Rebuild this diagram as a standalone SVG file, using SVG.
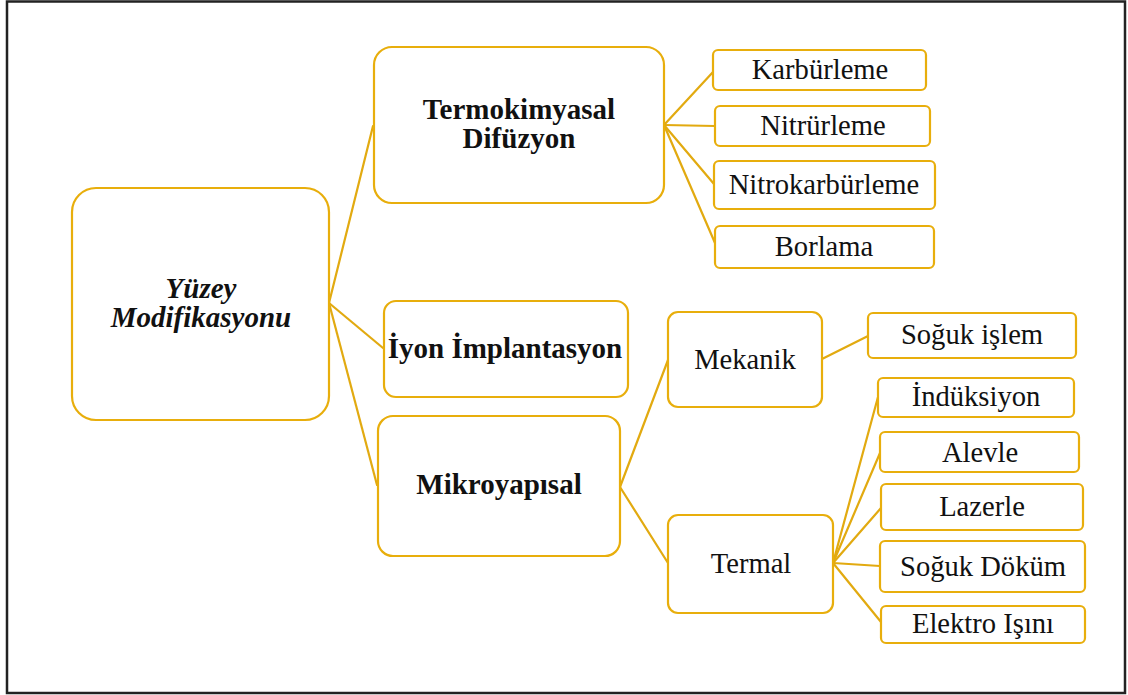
<svg xmlns="http://www.w3.org/2000/svg" width="1128" height="695" viewBox="0 0 1128 695">
  <style>
    .box { fill: #ffffff; stroke: #E8AE0C; stroke-width: 2.2; }
    .link { stroke: #E2AA10; stroke-width: 2.2; fill: none; stroke-linecap: round; }
    .t { font-family: "Liberation Serif", "Times New Roman", serif; font-size: 28.6px; fill: #111; text-anchor: middle; }
    .b { font-weight: bold; font-size: 29px; }
    .bi { font-weight: bold; font-style: italic; font-size: 29px; }
  </style>

  <!-- outer frame -->
  <rect x="7" y="1.5" width="1118" height="691.5" fill="#ffffff" stroke="#222222" stroke-width="2.5"/>

  <!-- connectors -->
  <g id="connectors">
    <line class="link" x1="329" y1="303" x2="373" y2="126"/>
    <line class="link" x1="329" y1="303" x2="383" y2="348"/>
    <line class="link" x1="329" y1="303" x2="377" y2="485"/>

    <line class="link" x1="664" y1="125" x2="713" y2="72"/>
    <line class="link" x1="664" y1="125" x2="715" y2="126"/>
    <line class="link" x1="664" y1="125" x2="714" y2="184"/>
    <line class="link" x1="664" y1="125" x2="715" y2="243"/>

    <line class="link" x1="620" y1="487" x2="668" y2="360"/>
    <line class="link" x1="620" y1="487" x2="668" y2="563"/>

    <line class="link" x1="822" y1="359" x2="868" y2="336"/>

    <line class="link" x1="833" y1="563" x2="878" y2="397"/>
    <line class="link" x1="833" y1="563" x2="880" y2="453"/>
    <line class="link" x1="833" y1="563" x2="881" y2="508"/>
    <line class="link" x1="833" y1="563" x2="880" y2="566"/>
    <line class="link" x1="833" y1="563" x2="881" y2="622"/>
  </g>

  <!-- root -->
  <g id="node-yuzey">
    <rect class="box" x="72" y="188" width="257" height="232" rx="24"/>
    <text class="t bi" x="201" y="298">Yüzey</text>
    <text class="t bi" x="201" y="327">Modifikasyonu</text>
  </g>

  <!-- level 1 -->
  <g id="node-termokimyasal">
    <rect class="box" x="374" y="47" width="290" height="156" rx="18"/>
    <text class="t b" x="519" y="119">Termokimyasal</text>
    <text class="t b" x="519" y="148">Difüzyon</text>
  </g>
  <g id="node-iyon">
    <rect class="box" x="384" y="301" width="244" height="96" rx="12"/>
    <text class="t b" x="505" y="358">İyon İmplantasyon</text>
  </g>
  <g id="node-mikroyapisal">
    <rect class="box" x="378" y="416" width="242" height="140" rx="15"/>
    <text class="t b" x="499" y="494">Mikroyapısal</text>
  </g>

  <!-- thermochemical diffusion methods -->
  <g id="node-karburleme">
    <rect class="box" x="713" y="50" width="213" height="40" rx="5"/>
    <text class="t" x="820" y="79">Karbürleme</text>
  </g>
  <g id="node-nitrurleme">
    <rect class="box" x="715" y="106" width="215" height="40" rx="5"/>
    <text class="t" x="823" y="135">Nitrürleme</text>
  </g>
  <g id="node-nitrokarburleme">
    <rect class="box" x="714" y="161" width="221" height="48" rx="5"/>
    <text class="t" x="824" y="194">Nitrokarbürleme</text>
  </g>
  <g id="node-borlama">
    <rect class="box" x="715" y="226" width="219" height="42" rx="5"/>
    <text class="t" x="824" y="256">Borlama</text>
  </g>

  <!-- microstructural branches -->
  <g id="node-mekanik">
    <rect class="box" x="668" y="312" width="154" height="95" rx="10"/>
    <text class="t" x="745" y="369">Mekanik</text>
  </g>
  <g id="node-termal">
    <rect class="box" x="668" y="515" width="165" height="98" rx="10"/>
    <text class="t" x="751" y="573">Termal</text>
  </g>

  <!-- mechanical -->
  <g id="node-soguk-islem">
    <rect class="box" x="868" y="313" width="208" height="45" rx="5"/>
    <text class="t" x="972" y="344">Soğuk işlem</text>
  </g>

  <!-- thermal methods -->
  <g id="node-induksiyon">
    <rect class="box" x="878" y="378" width="196" height="39" rx="5"/>
    <text class="t" x="976" y="406">İndüksiyon</text>
  </g>
  <g id="node-alevle">
    <rect class="box" x="880" y="432" width="199" height="40" rx="5"/>
    <text class="t" x="980" y="462">Alevle</text>
  </g>
  <g id="node-lazerle">
    <rect class="box" x="881" y="484" width="202" height="46" rx="5"/>
    <text class="t" x="982" y="516">Lazerle</text>
  </g>
  <g id="node-soguk-dokum">
    <rect class="box" x="880" y="541" width="205" height="51" rx="5"/>
    <text class="t" x="983" y="576">Soğuk Döküm</text>
  </g>
  <g id="node-elektro-isini">
    <rect class="box" x="881" y="606" width="204" height="37" rx="5"/>
    <text class="t" x="983" y="633">Elektro Işını</text>
  </g>
</svg>
